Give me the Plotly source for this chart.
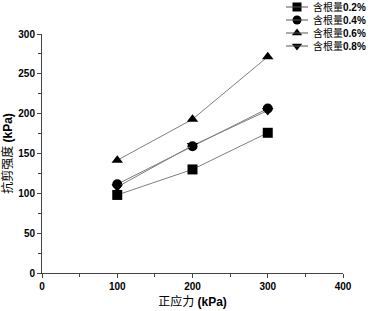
import plotly.graph_objects as go

normal_stress = [100, 200, 300]
series_names = ["含根量0.2%", "含根量0.4%", "含根量0.6%", "含根量0.8%"]
legend_texts = ["含根量<b>0.2%</b>", "含根量<b>0.4%</b>", "含根量<b>0.6%</b>", "含根量<b>0.8%</b>"]
s02 = [98, 130, 176]
s04 = [111.5, 159, 206.5]
s06 = [141.5, 193, 271.5]
s08 = [108, 160, 204]
symbols = ["square", "circle", "triangle-up", "triangle-down"]
series_vals = [s02, s04, s06, s08]

W, H = 368, 311
# plot-area box in pixels
PL, PR, PT, PB = 42, 343, 34, 273

fig = go.Figure()
for name, vals, sym in zip(series_names, series_vals, symbols):
    fig.add_trace(go.Scatter(
        x=normal_stress, y=vals, name=name, mode="lines+markers",
        line=dict(color="#7f7f7f", width=1),
        marker=dict(symbol=sym, size=10, color="black"),
        showlegend=False,
    ))

# manual compact legend drawn on a full-figure pixel overlay axis pair
row_y = [7, 20, 33, 46]
leg_font = dict(family="Liberation Sans, Noto Sans CJK SC", size=10, color="black")
for txt, sym, ry in zip(legend_texts, symbols, row_y):
    fig.add_shape(type="line", xref="x2", yref="y2", x0=286, x1=308, y0=ry, y1=ry,
                  line=dict(color="#555555", width=1))
    fig.add_annotation(xref="x2", yref="y2", x=311, y=ry, text=txt, showarrow=False,
                       xanchor="left", yanchor="middle", font=leg_font)
fig.add_trace(go.Scatter(x=[297] * 4, y=row_y, xaxis="x2", yaxis="y2", mode="markers",
                         marker=dict(symbol=symbols, size=9, color="black"),
                         cliponaxis=False, showlegend=False, hoverinfo="skip"))

tickfont = dict(family="Liberation Sans, Arial", size=10, color="black", weight="bold")
title_font = dict(family="Liberation Sans, Noto Sans CJK SC", size=12, color="black")
axcol = "#444444"
fig.update_layout(
    width=W, height=H,
    margin=dict(l=0, r=0, t=0, b=0, autoexpand=False),
    plot_bgcolor="rgba(0,0,0,0)", paper_bgcolor="white",
    showlegend=False,
    xaxis=dict(domain=[PL / W, PR / W], anchor="y",
               range=[0, 400], tickvals=[0, 100, 200, 300, 400], showgrid=False, zeroline=False,
               showline=True, linecolor=axcol, linewidth=1, ticks="outside", ticklen=4,
               tickcolor=axcol, tickfont=tickfont,
               minor=dict(tickvals=[50, 150, 250, 350], ticks="outside", ticklen=3, tickcolor=axcol),
               title=dict(text="正应力 <b>(kPa)</b>", font=title_font, standoff=6)),
    yaxis=dict(domain=[(H - PB) / H, (H - PT) / H], anchor="x",
               range=[0, 300], tickvals=[0, 50, 100, 150, 200, 250, 300], showgrid=False, zeroline=False,
               showline=True, linecolor=axcol, linewidth=1, ticks="outside", ticklen=4,
               tickcolor=axcol, tickfont=tickfont,
               minor=dict(tickvals=[25, 75, 125, 175, 225, 275], ticks="outside", ticklen=3, tickcolor=axcol),
               title=dict(text="抗剪强度 <b>(kPa)</b>", font=title_font, standoff=3)),
    xaxis2=dict(domain=[0, 1], anchor="y2", range=[0, W], visible=False, fixedrange=True),
    yaxis2=dict(domain=[0, 1], anchor="x2", range=[H, 0], visible=False, fixedrange=True),
)
fig.write_html("out.html", config={"displayModeBar": False},
               post_script="document.body.style.margin='0';")
